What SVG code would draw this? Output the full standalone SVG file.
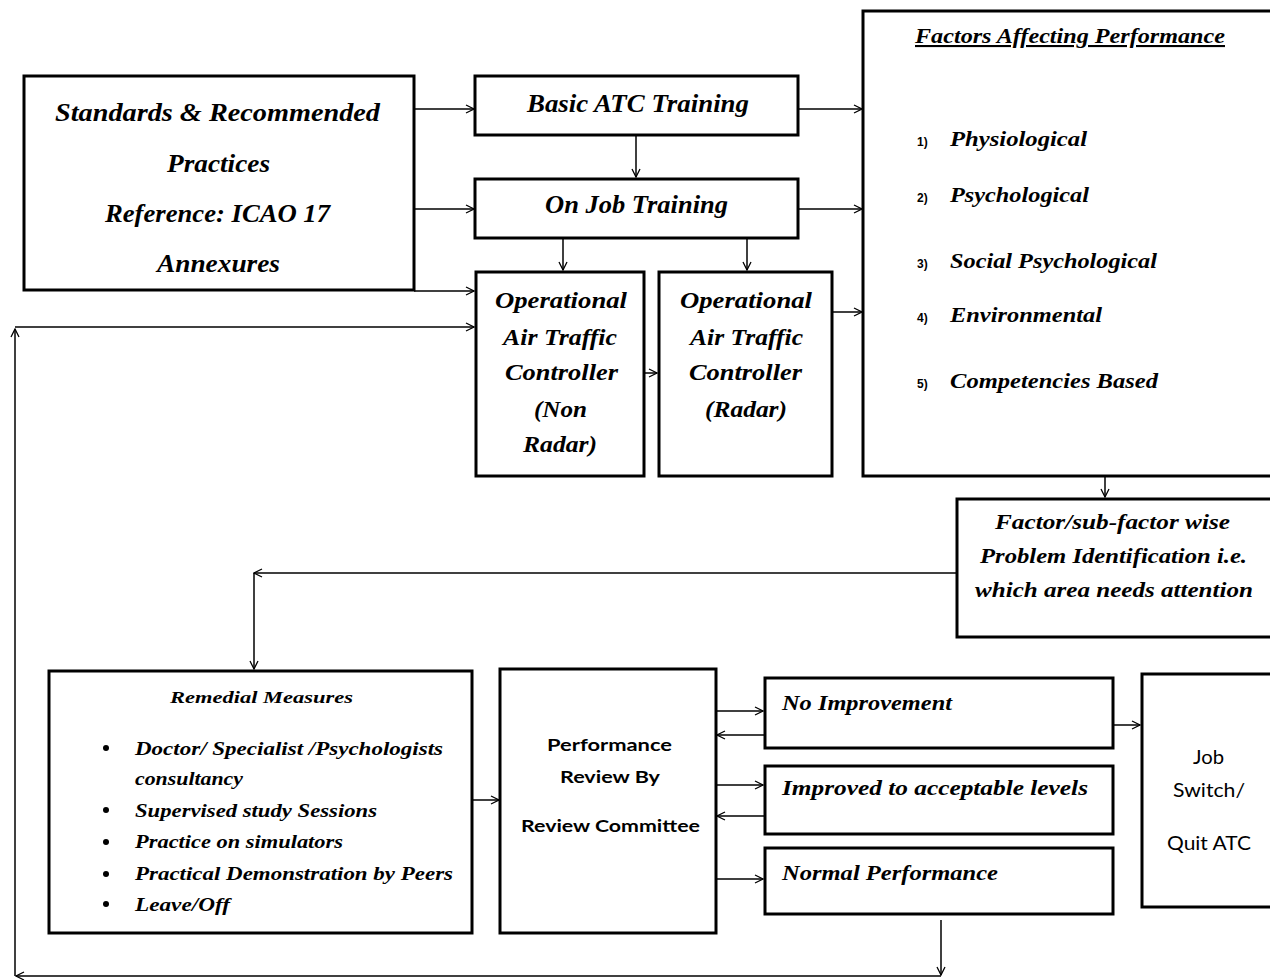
<svg xmlns="http://www.w3.org/2000/svg" width="1270" height="980" viewBox="0 0 1270 980">
<style>
.box{fill:#fff;stroke:#000;stroke-width:3}
.t{font-family:"Liberation Serif",serif;font-weight:bold;font-style:italic;fill:#000}
.c{font-family:Lato,"Liberation Sans",sans-serif;font-weight:bold;fill:#000}
.cr{font-family:Lato,"Liberation Sans",sans-serif;fill:#000}
.n{font-family:"Liberation Sans",sans-serif;font-weight:bold;font-size:12px;fill:#000}
.ln{fill:none;stroke:#000;stroke-width:1.5}
</style>
<defs>
<marker id="a" viewBox="0 0 10 10" refX="9" refY="5" markerWidth="10" markerHeight="10" markerUnits="userSpaceOnUse" orient="auto">
<path d="M1,1 L9,5 L1,9" fill="none" stroke="#000" stroke-width="1.3"/>
</marker>
</defs>
<rect width="1270" height="980" fill="#fff"/>

<g id="connectors">
<path class="ln" d="M414,109 L474,109" marker-end="url(#a)"/>
<path class="ln" d="M414,209 L474,209" marker-end="url(#a)"/>
<path class="ln" d="M414,291 L474,291" marker-end="url(#a)"/>
<path class="ln" d="M636,135 L636,177" marker-end="url(#a)"/>
<path class="ln" d="M563,238 L563,270" marker-end="url(#a)"/>
<path class="ln" d="M747,238 L747,270" marker-end="url(#a)"/>
<path class="ln" d="M644,373 L657,373" marker-end="url(#a)"/>
<path class="ln" d="M798,109 L862,109" marker-end="url(#a)"/>
<path class="ln" d="M798,209 L862,209" marker-end="url(#a)"/>
<path class="ln" d="M832,312 L862,312" marker-end="url(#a)"/>
<path class="ln" d="M1105,476 L1105,497" marker-end="url(#a)"/>
<path class="ln" d="M956,573 L254,573" marker-end="url(#a)"/>
<path class="ln" d="M254,573 L254,669" marker-end="url(#a)"/>
<path class="ln" d="M472,800 L499,800" marker-end="url(#a)"/>
<path class="ln" d="M716,711 L763,711" marker-end="url(#a)"/>
<path class="ln" d="M764,735 L717,735" marker-end="url(#a)"/>
<path class="ln" d="M716,785 L763,785" marker-end="url(#a)"/>
<path class="ln" d="M764,816 L717,816" marker-end="url(#a)"/>
<path class="ln" d="M716,879 L763,879" marker-end="url(#a)"/>
<path class="ln" d="M1113,725 L1140,725" marker-end="url(#a)"/>
<path class="ln" d="M941,920 L941,975" marker-end="url(#a)"/>
<path class="ln" d="M941,976 L16,976" marker-end="url(#a)"/>
<path class="ln" d="M15,976 L15,329" marker-end="url(#a)"/>
<path class="ln" d="M15,327 L474,327" marker-end="url(#a)"/>
</g>

<g id="standards">
<rect class="box" x="24" y="76" width="390" height="214"/>
<text class="t" x="55" y="121" font-size="26" textLength="325" lengthAdjust="spacingAndGlyphs">Standards  &amp; Recommended</text>
<text class="t" x="167" y="172" font-size="26" textLength="103" lengthAdjust="spacingAndGlyphs">Practices</text>
<text class="t" x="105" y="222" font-size="26" textLength="225" lengthAdjust="spacingAndGlyphs">Reference: ICAO 17</text>
<text class="t" x="157" y="272" font-size="26" textLength="123" lengthAdjust="spacingAndGlyphs">Annexures</text>
</g>

<g id="basic">
<rect class="box" x="475" y="76" width="323" height="59"/>
<text class="t" x="527" y="112" font-size="26" textLength="222" lengthAdjust="spacingAndGlyphs">Basic ATC Training</text>
</g>

<g id="onjob">
<rect class="box" x="475" y="179" width="323" height="59"/>
<text class="t" x="545" y="213" font-size="26" textLength="183" lengthAdjust="spacingAndGlyphs">On Job Training</text>
</g>

<g id="nonradar">
<rect class="box" x="476" y="272" width="168" height="204"/>
<text class="t" x="495" y="308" font-size="23" textLength="132" lengthAdjust="spacingAndGlyphs">Operational</text>
<text class="t" x="503" y="345" font-size="23" textLength="114" lengthAdjust="spacingAndGlyphs">Air Traffic</text>
<text class="t" x="505" y="380" font-size="23" textLength="113" lengthAdjust="spacingAndGlyphs">Controller</text>
<text class="t" x="534" y="417" font-size="23" textLength="53" lengthAdjust="spacingAndGlyphs">(Non</text>
<text class="t" x="523" y="452" font-size="23" textLength="74" lengthAdjust="spacingAndGlyphs">Radar)</text>
</g>

<g id="radar">
<rect class="box" x="659" y="272" width="173" height="204"/>
<text class="t" x="680" y="308" font-size="23" textLength="132" lengthAdjust="spacingAndGlyphs">Operational</text>
<text class="t" x="690" y="345" font-size="23" textLength="113" lengthAdjust="spacingAndGlyphs">Air Traffic</text>
<text class="t" x="689" y="380" font-size="23" textLength="113" lengthAdjust="spacingAndGlyphs">Controller</text>
<text class="t" x="705" y="417" font-size="23" textLength="82" lengthAdjust="spacingAndGlyphs">(Radar)</text>
</g>

<g id="factors">
<rect class="box" x="863" y="11" width="420" height="465"/>
<text class="t" x="915" y="43" font-size="21" textLength="310" lengthAdjust="spacingAndGlyphs" text-decoration="underline">Factors Affecting Performance</text>
<text class="n" x="917" y="146">1)</text>
<text class="t" x="950" y="146" font-size="22" textLength="137" lengthAdjust="spacingAndGlyphs">Physiological</text>
<text class="n" x="917" y="202">2)</text>
<text class="t" x="950" y="202" font-size="22" textLength="139" lengthAdjust="spacingAndGlyphs">Psychological</text>
<text class="n" x="917" y="268">3)</text>
<text class="t" x="950" y="268" font-size="22" textLength="207" lengthAdjust="spacingAndGlyphs">Social Psychological</text>
<text class="n" x="917" y="322">4)</text>
<text class="t" x="950" y="322" font-size="22" textLength="152" lengthAdjust="spacingAndGlyphs">Environmental</text>
<text class="n" x="917" y="388">5)</text>
<text class="t" x="950" y="388" font-size="22" textLength="208" lengthAdjust="spacingAndGlyphs">Competencies  Based</text>
</g>

<g id="problem">
<rect class="box" x="957" y="499" width="330" height="138"/>
<text class="t" x="995" y="529" font-size="20" textLength="235" lengthAdjust="spacingAndGlyphs">Factor/sub-factor  wise</text>
<text class="t" x="980" y="563" font-size="20" textLength="267" lengthAdjust="spacingAndGlyphs">Problem Identification i.e.</text>
<text class="t" x="975" y="597" font-size="20" textLength="278" lengthAdjust="spacingAndGlyphs">which area needs attention</text>
</g>

<g id="remedial">
<rect class="box" x="49" y="671" width="423" height="262"/>
<text class="t" x="170" y="703" font-size="17" textLength="183" lengthAdjust="spacingAndGlyphs">Remedial Measures</text>
<circle cx="106" cy="748" r="3"/>
<text class="t" x="135" y="755" font-size="18" textLength="308" lengthAdjust="spacingAndGlyphs">Doctor/ Specialist /Psychologists</text>
<text class="t" x="135" y="785" font-size="18" textLength="108" lengthAdjust="spacingAndGlyphs">consultancy</text>
<circle cx="106" cy="810" r="3"/>
<text class="t" x="135" y="817" font-size="18" textLength="242" lengthAdjust="spacingAndGlyphs">Supervised study Sessions</text>
<circle cx="106" cy="842" r="3"/>
<text class="t" x="135" y="848" font-size="18" textLength="208" lengthAdjust="spacingAndGlyphs">Practice on simulators</text>
<circle cx="106" cy="874" r="3"/>
<text class="t" x="135" y="880" font-size="18" textLength="318" lengthAdjust="spacingAndGlyphs">Practical Demonstration  by Peers</text>
<circle cx="106" cy="904" r="3"/>
<text class="t" x="135" y="911" font-size="18" textLength="95" lengthAdjust="spacingAndGlyphs">Leave/Off</text>
</g>

<g id="review">
<rect class="box" x="500" y="669" width="216" height="264"/>
<text class="c" x="547" y="751" font-size="17" textLength="125" lengthAdjust="spacingAndGlyphs">Performance</text>
<text class="c" x="560" y="783" font-size="17" textLength="100" lengthAdjust="spacingAndGlyphs">Review By</text>
<text class="c" x="521" y="832" font-size="17" textLength="179" lengthAdjust="spacingAndGlyphs">Review Committee</text>
</g>

<g id="noimprovement">
<rect class="box" x="765" y="678" width="348" height="70"/>
<text class="t" x="782" y="710" font-size="20" textLength="170" lengthAdjust="spacingAndGlyphs">No Improvement</text>
</g>

<g id="improved">
<rect class="box" x="765" y="766" width="348" height="68"/>
<text class="t" x="782" y="795" font-size="20" textLength="306" lengthAdjust="spacingAndGlyphs">Improved to acceptable  levels</text>
</g>

<g id="normal">
<rect class="box" x="765" y="848" width="348" height="66"/>
<text class="t" x="782" y="880" font-size="20" textLength="216" lengthAdjust="spacingAndGlyphs">Normal Performance</text>
</g>

<g id="jobswitch">
<rect class="box" x="1142" y="674" width="140" height="233"/>
<text class="cr" x="1193" y="764" font-size="19" textLength="31" lengthAdjust="spacingAndGlyphs">Job</text>
<text class="cr" x="1173" y="797" font-size="19" textLength="72" lengthAdjust="spacingAndGlyphs">Switch/</text>
<text class="cr" x="1167" y="850" font-size="19" textLength="84" lengthAdjust="spacingAndGlyphs">Quit ATC</text>
</g>
</svg>
